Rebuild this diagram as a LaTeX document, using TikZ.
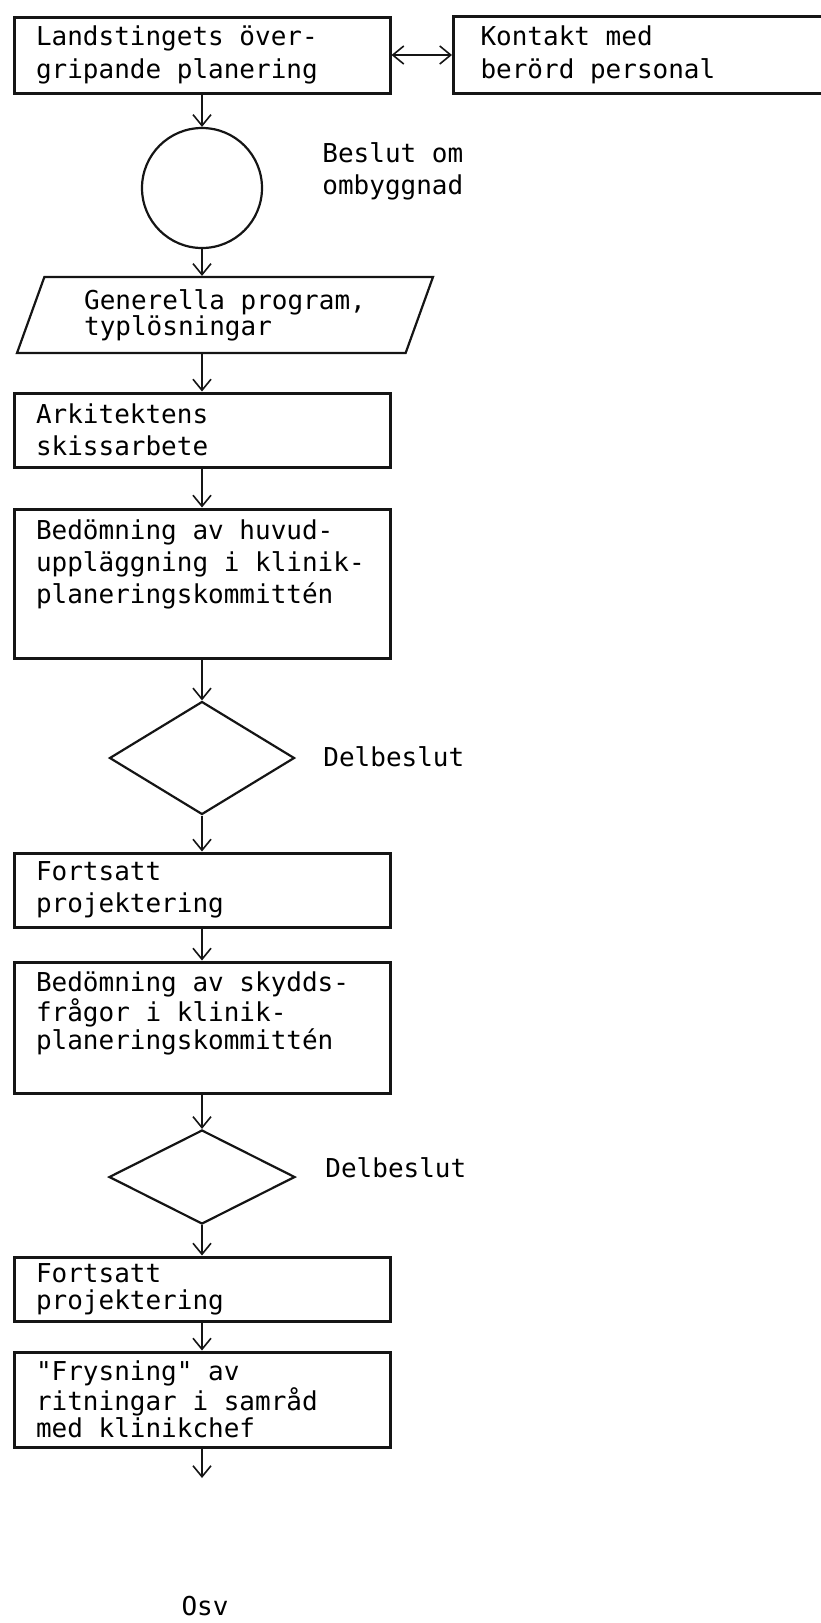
\documentclass[tikz,border=0pt]{standalone}
\usepackage{fontspec}
\setmonofont{DejaVu Sans Mono}[WordSpace={1,0,0}]
\renewcommand{\familydefault}{\ttdefault}
\usetikzlibrary{arrows.meta,shapes.geometric}
\definecolor{fInk}{HTML}{151515}

\begin{document}
\begin{tikzpicture}[
  x=0.5pt, y=-0.5pt, font=\fontsize{13pt}{15pt}\selectfont,
  >={Straight Barb[length=5.5pt,width=9pt]},
  blk/.style={draw=fInk, line width=1.5pt, align=flush left, inner xsep=11pt, inner ysep=0pt,
              text width=166pt, minimum width=188pt},
  sym/.style={draw=fInk, line width=1.1pt, inner sep=0pt},
  lbl/.style={inner sep=0pt, align=left, anchor=west},
  ar/.style={->, draw=fInk, line width=0.8pt},
  ar2/.style={<->, draw=fInk, line width=0.8pt},
]
\useasboundingbox (0,0) rectangle (820,1623);

% ============================================================ TOP
% ---- planering + kontakt
\node[blk, minimum height=38pt, font=\fontsize{13pt}{16.5pt}\selectfont] at (202,55) (plan)
  {Landstingets över-\\gripande planering};
\node[blk, text width=161pt, inner xsep=12.5pt, minimum height=38.5pt,
      font=\fontsize{13pt}{16.5pt}\selectfont] at (641.5,55) (kontakt)
  {Kontakt med\\berörd personal};

% ---- beslut
\node[sym, circle, minimum size=60pt] at (202,188) (beslut) {};
\node[lbl, font=\fontsize{13pt}{16pt}\selectfont] at (322,171) (beslutl) {Beslut om\\ombyggnad};

% ---- program
\node[sym, trapezium, trapezium left angle=62, trapezium right angle=118,
      trapezium stretches body, minimum width=208pt, minimum height=38pt, align=left,
      font=\fontsize{13pt}{13pt}\selectfont]
  at (225,315) (prog) {Generella program,\\typlösningar};

% ============================================================ SKISS
\node[blk, minimum height=37pt, font=\fontsize{13pt}{16pt}\selectfont] at (202,430) (skiss)
  {Arkitektens\\skissarbete};
\node[blk, minimum height=74.5pt, font=\fontsize{13pt}{16pt}\selectfont] at (202,583.5) (huvud)
  {Bedömning av huvud-\\uppläggning i klinik-\\planeringskommittén\\[5.5pt]\mbox{}};

\node[sym, diamond, minimum width=92.5pt, minimum height=56.5pt] at (202,758) (del1) {};
\node[lbl] at (323,757) (del1l) {Delbeslut};

% ============================================================ PROJEKTERING
\node[blk, minimum height=37pt, font=\fontsize{13pt}{16pt}\selectfont] at (202,890) (fort1)
  {Fortsatt\\projektering};
\node[blk, minimum height=65.5pt, font=\fontsize{13pt}{14pt}\selectfont] at (202,1027.5) (skydd)
  {Bedömning av skydds-\\frågor i klinik-\\planeringskommittén\\[3pt]\mbox{}};

\node[sym, diamond, minimum width=93pt, minimum height=47pt] at (202,1177) (del2) {};
\node[lbl] at (325,1168) (del2l) {Delbeslut};

\node[blk, minimum height=32pt, font=\fontsize{13pt}{13.5pt}\selectfont] at (202,1289) (fort2)
  {Fortsatt\\projektering};
\node[blk, minimum height=47.5pt, font=\fontsize{13pt}{13.5pt}\selectfont] at (202,1399.5) (frys)
  {"Frysning" av\\ritningar i samråd\\med klinikchef};

\coordinate (osvpil) at (202,1478);
\node[inner sep=0pt, anchor=base] at (205,1615) (osv) {Osv};

% ============================================================ arrows
\draw[ar2] (plan) -- (kontakt);
\draw[ar] (plan.south)   -- (beslut.north);
\draw[ar] (beslut.south) -- (beslut.south |- prog.north);
\draw[ar] (prog.south -| skiss.north) -- (skiss.north);
\draw[ar] (skiss.south)  -- (huvud.north);
\draw[ar] (huvud.south)  -- (del1.north);
\draw[ar] (del1.south)   -- (fort1.north);
\draw[ar] (fort1.south)  -- (skydd.north);
\draw[ar] (skydd.south)  -- (del2.north);
\draw[ar] (del2.south)   -- (fort2.north);
\draw[ar] (fort2.south)  -- (frys.north);
\draw[ar] (frys.south)   -- (osvpil);

\end{tikzpicture}
\end{document}
